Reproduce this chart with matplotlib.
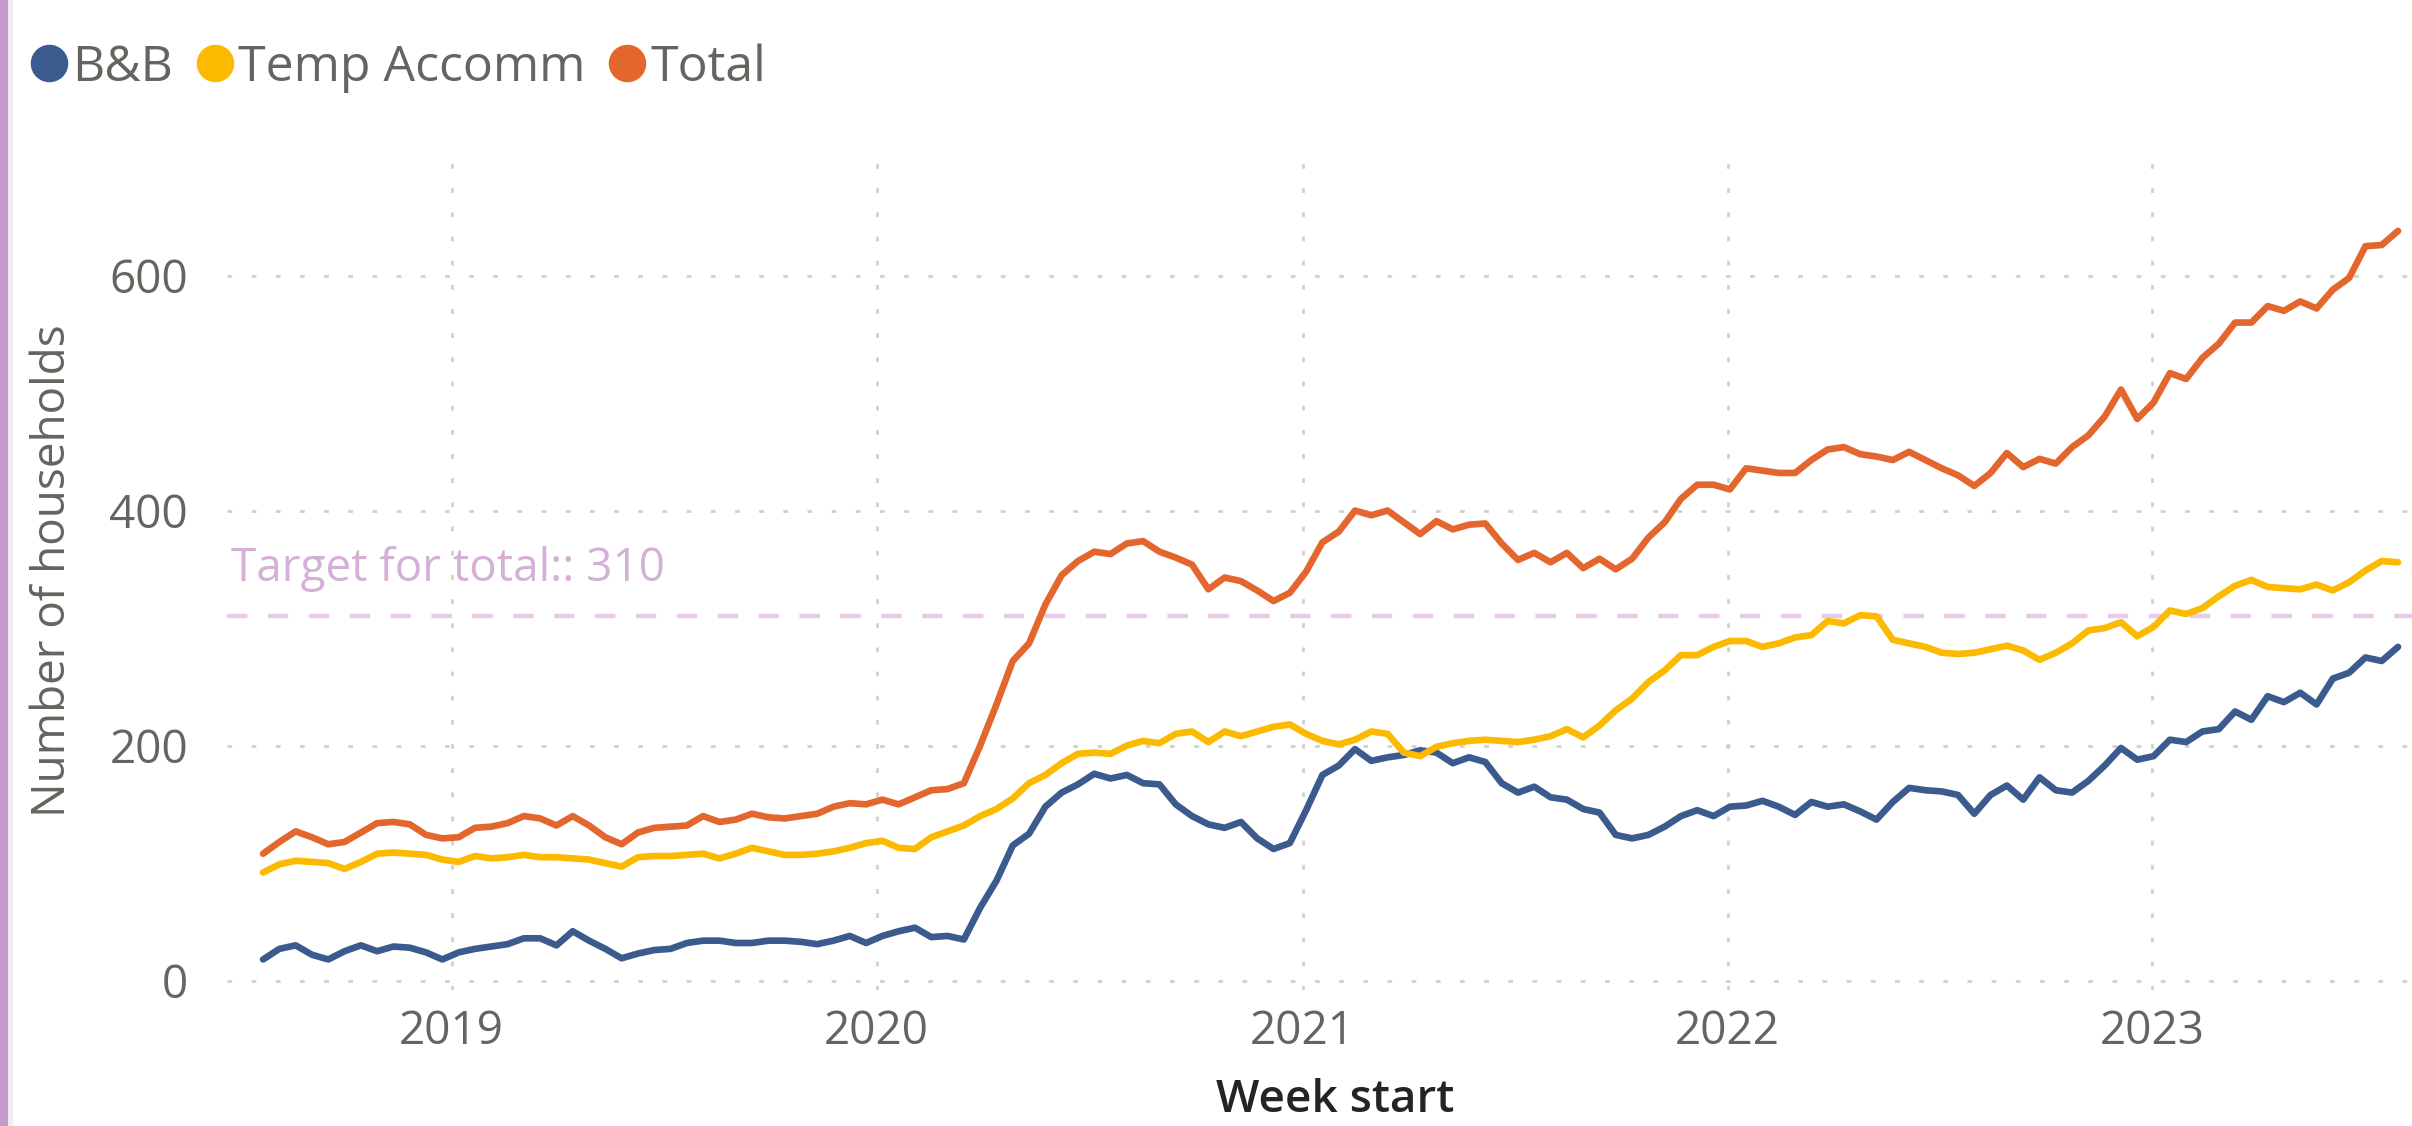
import matplotlib
matplotlib.use('Agg')
import matplotlib.dates as mdates
import matplotlib.pyplot as plt
import matplotlib.transforms as mtransforms
import pandas as pd
from matplotlib.lines import Line2D
from matplotlib.patches import Rectangle

# 数据：每两周取一个点（原图为周数据），从 2018-07-23 开始
week_start = pd.date_range('2018-07-23', periods=132, freq='14D')

bnb = [
    18, 27, 30, 22, 18, 25, 30, 25, 29, 28, 24, 18, 24, 27, 29, 31, 36, 36, 30, 42, 34, 27, 19, 23, 26, 27,
    32, 34, 34, 32, 32, 34, 34, 33, 31, 34, 38, 32, 38, 42, 45, 37, 38, 35, 62, 85, 115, 125, 148, 160, 167, 176, 172, 175,
    168, 167, 150, 140, 133, 130, 135, 121, 112, 117, 145, 175, 183, 197, 187, 190, 192, 196, 194, 185, 190, 186, 168, 160,
    165, 156, 154, 146, 143,
    124, 121, 124, 131, 140, 145, 140, 148, 149, 153, 148, 141, 152, 148, 150, 144, 137, 152, 164, 162, 161, 158, 142, 158,
    166, 154, 173, 162,
    160, 170, 183, 198, 188, 191, 205, 203, 212, 214, 229, 222, 242, 237, 245, 235, 257, 262, 275, 272, 284,
]

temp_accomm = [
    92, 99, 102, 101, 100, 95, 101, 108, 109, 108, 107, 103, 101, 106, 104, 105, 107, 105, 105, 104, 103, 100, 97, 105,
    106, 106,
    107, 108, 104, 108, 113, 110, 107, 107, 108, 110, 113, 117, 119, 113, 112, 122, 127, 132, 140, 146, 155, 168, 175, 185,
    193, 194, 193, 200,
    204, 202, 210, 212, 203, 212, 208, 212, 216, 218, 210, 204, 201, 205, 212, 210, 194, 191, 199, 202, 204, 205, 204, 203,
    205, 208, 214, 207, 217,
    230, 240, 254, 264, 277, 277, 284, 289, 289, 284, 287, 292, 294, 306, 304, 311, 310, 290, 287, 284, 279, 278, 279, 282,
    285, 281, 273, 279,
    287, 298, 300, 305, 293, 301, 315, 312, 317, 327, 336, 341, 335, 334, 333, 337, 332, 339, 349, 357, 356,
]

total = [
    108, 118, 127, 122, 116, 118, 126, 134, 135, 133, 124, 121, 122, 130, 131, 134, 140, 138, 132, 140, 132, 122, 116, 126,
    130, 131,
    132, 140, 135, 137, 142, 139, 138, 140, 142, 148, 151, 150, 154, 150, 156, 162, 163, 168, 200, 235, 272, 287, 320, 345,
    357, 365, 363, 372,
    374, 365, 360, 354, 333, 343, 340, 332, 323, 330, 348, 373, 382, 400, 396, 400, 390, 380, 391, 384, 388, 389, 372, 358,
    364, 356, 364, 351, 359,
    350, 359, 377, 390, 410, 422, 422, 418, 436, 434, 432, 432, 443, 452, 454, 448, 446, 443, 450, 443, 436, 430, 421, 432,
    449, 437, 444, 440,
    454, 464, 480, 503, 478, 492, 517, 512, 530, 542, 560, 560, 574, 570, 578, 572, 588, 598, 625, 626, 638,
]

target_total = 310
y_ticks = [0, 200, 400, 600]

series_names = ['B&B', 'Temp Accomm', 'Total']
series_colors = ['#3B5B8E', '#FBBA00', '#E4662F']

grey_text = '#66645F'
dark_text = '#252423'
grid_color = '#D2D0CE'
target_color = '#E8CBE8'
target_text_color = '#D4B0D6'


def main():
    plt.rcParams['font.family'] = ['Open Sans', 'DejaVu Sans']

    fig = plt.figure(figsize=(24.12, 11.26), dpi=100)
    W, H = 2412, 1126
    ax = fig.add_axes([227 / W, 1 - 990 / H, (W - 227) / W, (990 - 151) / H])

    # 左侧紫色边条
    fig.patches.append(Rectangle((0, 0), 8 / W, 1, transform=fig.transFigure,
                                 facecolor='#C49ACB', edgecolor='none'))
    fig.patches.append(Rectangle((8 / W, 0), 5 / W, 1, transform=fig.transFigure,
                                 facecolor='#EEECEE', edgecolor='none'))

    for values, name, color in zip([bnb, temp_accomm, total], series_names, series_colors):
        ax.plot(week_start, values, color=color, lw=4.8, label=name,
                solid_joinstyle='round', solid_capstyle='round', zorder=3)

    # 目标线
    ax.axhline(target_total, color=target_color, lw=3.2, linestyle=(0, (4.6, 4.6)), zorder=2)
    trans = mtransforms.blended_transform_factory(ax.transAxes, ax.transData)
    ax.text(0.002, 340, f'Target for total:: {target_total}', transform=trans,
            color=target_text_color, fontsize=33, va='baseline', ha='left')

    ax.set_xlim(pd.Timestamp('2018-06-22'), pd.Timestamp('2023-08-12'))
    ax.set_ylim(-8, 706)
    ax.set_yticks(y_ticks)
    ax.xaxis.set_major_locator(mdates.YearLocator())
    ax.xaxis.set_major_formatter(mdates.DateFormatter('%Y'))

    ax.grid(True, color=grid_color, linestyle=(0, (1.7, 7)), linewidth=2, zorder=1)
    for s in ax.spines.values():
        s.set_visible(False)
    ax.tick_params(axis='both', length=0, labelsize=33, labelcolor=grey_text)
    ax.tick_params(axis='y', pad=28)
    ax.tick_params(axis='x', pad=14)

    ax.set_ylabel('Number of households', fontsize=33, color=grey_text)
    ax.yaxis.label.set_va('center')
    ax.yaxis.set_label_coords(-0.0796, 0.5)
    ax.set_xlabel('Week start', fontsize=33, color=dark_text, fontweight='semibold')
    ax.xaxis.label.set_va('center')
    ax.xaxis.set_label_coords(0.507, -0.132)

    handles = [Line2D([0], [0], marker='o', linestyle='', markersize=26,
                      markerfacecolor=c, markeredgecolor=c) for c in series_colors]
    fig.legend(handles, series_names, loc='center left', bbox_to_anchor=(30 / W, 1 - 68 / H),
               ncol=3, frameon=False, fontsize=36, handlelength=0.75, handletextpad=0.1,
               columnspacing=0.45, borderpad=0, borderaxespad=0, labelcolor=grey_text)

    fig.savefig('out.png', dpi=100)
    plt.close(fig)


if __name__ == '__main__':
    main()
